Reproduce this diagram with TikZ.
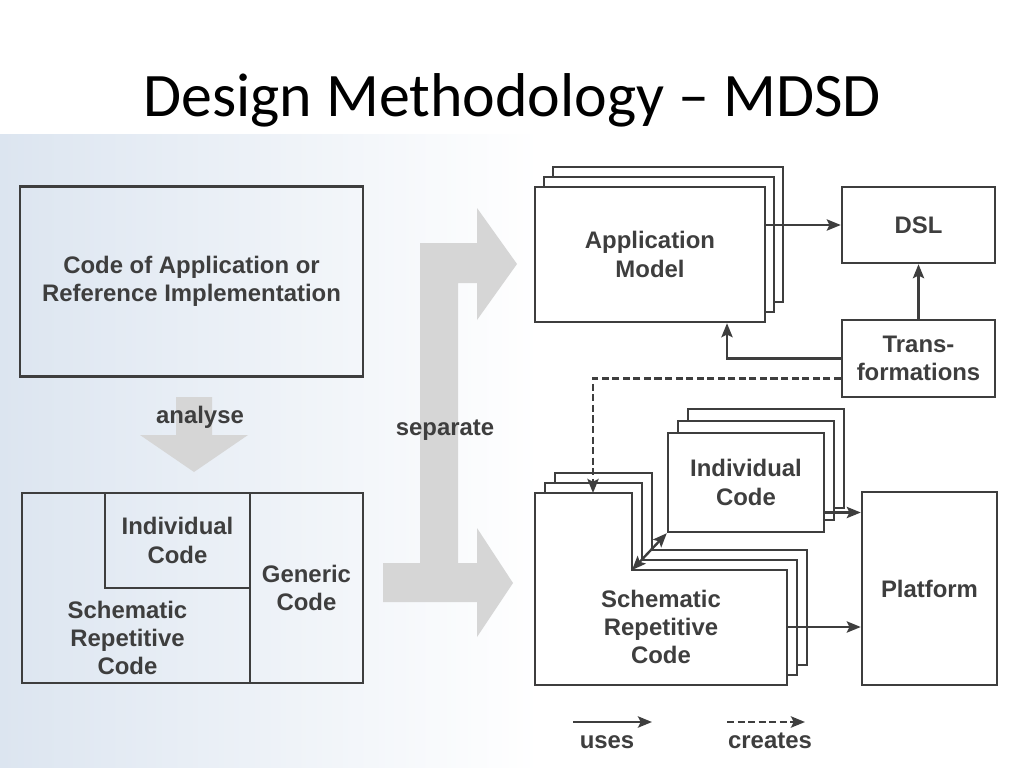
\documentclass[tikz,border=0pt]{standalone}
\usepackage{fontspec}
\setmainfont{Liberation Sans}
\newfontfamily\titlefont{Carlito}
\usepackage{tikz}
\usetikzlibrary{positioning, calc, arrows.meta}
\definecolor{ink}{RGB}{62,62,62}
\definecolor{shadegray}{RGB}{214,214,214}
\definecolor{scanblue}{RGB}{220,229,240}

\begin{document}
\begin{tikzpicture}[x=0.025cm, y=-0.025cm, >={Stealth[length=10pt,width=8pt,inset=2pt]}]
	\tikzset{box/.style={draw=ink, rectangle, line width=1.7pt, inner sep=0pt, font=\bfseries\fontsize{17}{20}\selectfont, text=ink, align=center}}
	\tikzset{sheet/.style={box, fill=white}}
	\tikzset{sheetline/.style={draw=ink, fill=white, line width=1.7pt}}
	\tikzset{label/.style={font=\bfseries\fontsize{17}{20}\selectfont, text=ink, align=center}}
	\tikzset{edge/.style={->, draw=ink, line width=1.7pt}}
	\tikzset{bigarrow/.style={fill=shadegray}}

	\useasboundingbox (0,0) rectangle (1024,768);
	\fill[white] (0,0) rectangle (1024,768);
	\shade[left color=scanblue, right color=white] (0,135) rectangle (540,768);

	\node(title) at (512,117) [anchor=base, font=\titlefont\fontsize{44}{50}\selectfont] {Design Methodology – MDSD};

	% left half
	\node(ref_impl) at (191.5,281.5) [box, minimum width=8.575cm, minimum height=4.75cm] {Code of Application or\\Reference Implementation};
	\fill[bigarrow] (176,397) -- (212,397) -- (212,435) -- (248,435) -- (194,472) -- (140,435) -- (176,435) -- cycle;
	\node(analyse) at (200,417) [label] {analyse};

	\node(split) at (192.5,588) [box, minimum width=8.525cm, minimum height=4.75cm] {};
	\node(gen_code) at (306.5,588) [box, minimum width=2.825cm, minimum height=4.75cm] {Generic\\Code};
	\node(left_ind) at (177.5,540.5) [box, minimum width=3.625cm, minimum height=2.375cm] {Individual\\Code};
	\node(left_src) at (127.5,638) [label] {Schematic\\Repetitive\\Code};

	\fill[bigarrow] (420,243) -- (477,243) -- (477,208) -- (517,264) -- (477,320) -- (477,283) -- (458,283) -- (458,563)
		-- (477,563) -- (477,528) -- (513,583) -- (477,637) -- (477,602) -- (383,602) -- (383,563) -- (420,563) -- cycle;
	\node(separate) at (445,430) [label] {separate};

	% right half
	\node(app_model_c) at (668,234.5) [sheet, minimum width=5.75cm, minimum height=3.375cm] {};
	\node(app_model_b) at (659,244.5) [sheet, minimum width=5.75cm, minimum height=3.375cm] {};
	\node(app_model) at (650,254.5) [sheet, minimum width=5.75cm, minimum height=3.375cm] {Application\\Model};

	\node(dsl) at (918.5,225) [sheet, minimum width=3.825cm, minimum height=1.9cm] {DSL};
	\node(trans) at (918.5,358.5) [sheet, minimum width=3.825cm, minimum height=1.925cm] {Trans-\\formations};

	\node(ind_code_c) at (766,458.5) [sheet, minimum width=3.9cm, minimum height=2.475cm] {};
	\node(ind_code_b) at (756,470.5) [sheet, minimum width=3.9cm, minimum height=2.475cm] {};
	\node(ind_code) at (746,482.5) [sheet, minimum width=3.9cm, minimum height=2.475cm] {Individual\\Code};

	\draw[sheetline, shift={(20,-20)}] (535,493) -- (632,493) -- (632,570) -- (787,570) -- (787,685) -- (535,685) -- cycle;
	\draw[sheetline, shift={(10,-10)}] (535,493) -- (632,493) -- (632,570) -- (787,570) -- (787,685) -- (535,685) -- cycle;
	\draw[sheetline] (535,493) -- (632,493) -- (632,570) -- (787,570) -- (787,685) -- (535,685) -- cycle;
	\node(src) at (661,627) [label] {Schematic\\Repetitive\\Code};
	\coordinate(src_top) at (593,493);
	\coordinate(src_corner) at (632,570);
	\coordinate(src_out) at (787,627);

	\node(platform) at (929.5,588.5) [sheet, minimum width=3.375cm, minimum height=4.825cm] {Platform};

	\draw[edge](app_model.east |- dsl.west) -- (dsl.west);
	\draw[edge](trans.north) -- (dsl.south);
	\draw[edge](trans.west) -| ($(app_model.south)+(77,0)$);
	\draw[edge, dash pattern=on 5pt off 2.5pt]($(trans.west)+(0,20)$) -| (src_top);
	\draw[edge, <->](src_corner) -- (ind_code.south west);
	\coordinate(ind_out) at ($(ind_code.east)+(0,30)$);
	\draw[edge](ind_out) -- (ind_out -| platform.west);
	\draw[edge](src_out) -- (src_out -| platform.west);

	% legend
	\coordinate(uses_a) at (573,722);
	\coordinate(uses_b) at (652,722);
	\coordinate(creates_a) at (727,722);
	\coordinate(creates_b) at (805,722);
	\draw[edge](uses_a) -- (uses_b);
	\draw[edge, dash pattern=on 5pt off 2.5pt](creates_a) -- (creates_b);
	\node(uses) at (607,748) [label, anchor=base] {uses};
	\node(creates) at (770,748) [label, anchor=base] {creates};
\end{tikzpicture}
\end{document}
